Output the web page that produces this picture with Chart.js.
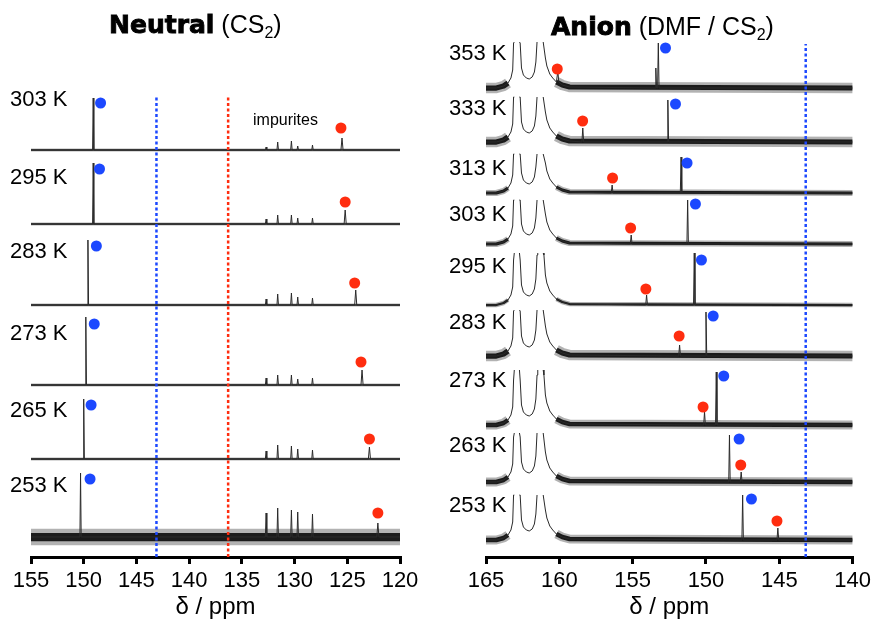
<!DOCTYPE html>
<html><head><meta charset="utf-8">
<script src="https://cdn.jsdelivr.net/npm/chart.js@4.4.1/dist/chart.umd.min.js"></script>
<style>
body{margin:0;width:875px;height:624px;position:relative;background:#fff;font-family:"Liberation Sans",Arial,sans-serif;overflow:hidden}
canvas{position:absolute;top:0}
.lab{position:absolute;font-size:22px;line-height:22px;color:#000;white-space:nowrap}
.ttl{position:absolute;font-size:25px;line-height:25px;color:#000;white-space:nowrap}
.ttl b{font-family:"DejaVu Sans";font-weight:bold;-webkit-text-stroke:0.9px #000}
.ttl sub{font-size:16px;vertical-align:-5px;line-height:0}
.imp{position:absolute;font-size:16px;line-height:16px;white-space:nowrap}
</style></head><body>
<canvas id="c1" width="430" height="624" style="left:0"></canvas>
<canvas id="c2" width="435" height="624" style="left:440px"></canvas>
<div class="ttl" style="left:109px;top:12px"><b>Neutral</b> (CS<sub>2</sub>)</div>
<div class="ttl" style="left:551px;top:14px"><b>Anion</b> (DMF / CS<sub>2</sub>)</div>
<div class="imp" style="left:253px;top:112px">impurites</div>
<script>
// ---------- Neutral (CS2) ----------
const neutralTemps = ['303 K','295 K','283 K','273 K','265 K','253 K'];
const neutralBluePpm = [149.1, 149.1, 149.6, 149.8, 150.0, 150.3];
const neutralBlueInt = [52, 61, 65, 68, 60, 64];
const neutralRedPpm  = [125.5, 125.2, 124.2, 123.6, 122.9, 122.1];
const neutralRedInt  = [12, 14, 15, 15, 12, 14];
const impurityPpm = [132.7, 131.6, 130.3, 129.7, 128.3];
const impurityInt = [
  [3, 8, 9, 4, 5],
  [5, 9, 9, 6, 6],
  [6, 11, 12, 8, 7],
  [7, 10, 10, 6, 7],
  [8, 14, 13, 10, 9],
  [24, 29, 27, 25, 23]
];
const neutralBlueDotPpm = [148.4, 148.5, 148.8, 149.0, 149.3, 149.4];
const neutralBlueDotInt = [47, 55, 59, 61, 54, 58];
const neutralRedDotPpm  = [125.6, 125.2, 124.3, 123.7, 122.9, 122.1];
const neutralRedDotInt  = [22, 22, 22, 23, 20, 24];
const neutralRefBlue = 143.1;
const neutralRefRed = 136.3;
const neutralTicks = [155,150,145,140,135,130,125,120];

// ---------- Anion (DMF / CS2) ----------
const anionTemps = ['353 K','333 K','313 K','303 K','295 K','283 K','273 K','263 K','253 K'];
const anionBluePpm = [153.25, 152.6, 151.7, 151.25, 150.8, 150.0, 149.3, 148.4, 147.5];
const anionBlueInt = [45, 42, 36, 44, 52, 44, 53, 47, 45];
const anionRedPpm  = [160.1, 158.4, 156.4, 155.1, 154.05, 151.8, 150.1, 147.6, 145.1];
const anionRedInt  = [11, 14, 8, 9, 10, 11, 13, 10, 12];
const anionShoulderPpm = [153.42, null, null, null, null, null, null, null, null];
const anionShoulderInt = [20, 0, 0, 0, 0, 0, 0, 0, 0];
const anionBlueDotPpm = [152.76, 152.08, 151.29, 150.72, 150.31, 149.51, 148.79, 147.74, 146.9];
const anionBlueDotInt = [40, 38, 30, 40, 45, 40, 49, 43, 41];
const anionRedDotPpm  = [160.14, 158.41, 156.37, 155.14, 154.1, 151.83, 150.2, 147.63, 145.16];
const anionRedDotInt  = [19, 21, 15, 16, 16, 20, 18, 17, 19];
const anionRefBlue = 143.2;
const anionTicks = [165,160,155,150,145,140];
// DMF solvent doublet (999 = off scale, null = peak centre cut off)
const dmfPpm = [165.0,164.3,163.8,163.5,163.3,163.18,163.12,163.07,162.9,162.72,162.67,162.58,162.45,162.25,162.05,161.85,161.7,161.6,161.52,161.47,161.3,161.1,161.05,160.95,160.85,160.65,160.45,160.2,159.8,159.3];
const dmfInt = [0,0,2,5,10,18,45,999,null,999,45,20,13,10,9,11,16,26,50,999,null,999,50,30,22,14,10,6,3,1];
const anionCap = [46, 45, 39, 44, 52, 46, 55, 49, 45];

// ---------- layout (stack offsets / noise widths) ----------
const neutralOffsets = [407, 333, 252, 172, 98, 20];
const neutralNoise = [2, 2, 2, 2, 2, 11];
const neutralLabelY = [98, 176, 250, 332, 409, 484];
const anionOffsets = [469, 415, 364, 313, 252, 201, 132, 75, 17];
const anionNoise = [7, 7, 4, 4, 3, 7, 6, 6, 6];
const anionLabelY = [52, 107, 167, 213, 265, 321, 379, 444, 504];

const BLUE = 'rgb(28,72,255)';
const RED = 'rgb(255,45,15)';
const FONT = '"Liberation Sans", Arial, sans-serif';

function makeTrace(off, spikes, xmax, xmin, profPpm, profInt, cap) {
  const pts = [];
  const baseAt = (p) => {
    if (!profPpm) return 0;
    if (p > profPpm[0] || p < profPpm[profPpm.length - 1]) return 0;
    let best = 0, bd = 1e9;
    profPpm.forEach((q, i) => { if (profInt[i] !== null && profInt[i] < 100 && Math.abs(q - p) < bd) { bd = Math.abs(q - p); best = profInt[i]; } });
    return best;
  };
  if (profPpm) {
    profPpm.forEach((p, i) => pts.push({x: p, y: profInt[i] === null ? null : off + Math.min(profInt[i], cap)}));
  } else {
    pts.push({x: xmax, y: off});
  }
  spikes.forEach(([p, h, w]) => {
    const b = baseAt(p);
    pts.push({x: p + w, y: off + b});
    pts.push({x: p, y: off + b + h});
    pts.push({x: p - w, y: off + b});
  });
  pts.push({x: xmin, y: off});
  pts.sort((a, b) => b.x - a.x);
  return pts;
}
function makeBand(off, xmax, xmin, profPpm, profInt) {
  const pts = [];
  if (profPpm) profPpm.forEach((p, i) => pts.push({x: p, y: (profInt[i] !== null && profInt[i] <= 6) ? off + profInt[i] : null}));
  else pts.push({x: xmax, y: off});
  pts.push({x: xmin, y: off});
  return pts;
}
function lineDs(data, color, width, dash) {
  return {type: 'line', data, borderColor: color, borderWidth: width, borderDash: dash || [], pointRadius: 0, fill: false, tension: 0, spanGaps: false, borderCapStyle: 'butt', borderJoinStyle: 'round'};
}
function dotDs(data, color) {
  return {type: 'scatter', data, backgroundColor: color, borderColor: color, borderWidth: 0, pointRadius: 5.5, pointHoverRadius: 5.5};
}
function makeOptions(xmin, xmax, ymax, padL, padR, padT, ticks) {
  return {
    responsive: false, animation: false, events: [],
    layout: {padding: {left: padL, right: padR, top: padT, bottom: 0}},
    plugins: {legend: {display: false}, tooltip: {enabled: false}},
    scales: {
      x: {
        type: 'linear', reverse: true, min: xmin, max: xmax,
        afterBuildTicks: (s) => { s.ticks = ticks.map(v => ({value: v})); },
        ticks: {font: {size: 22, family: FONT}, color: '#000', padding: 4, maxRotation: 0, autoSkip: false},
        grid: {drawOnChartArea: false, drawTicks: true, tickLength: 7, lineWidth: 3, color: '#000'},
        border: {display: true, width: 3, color: '#000'},
        title: {display: true, text: 'δ / ppm', font: {size: 24, family: FONT}, color: '#000', padding: {top: 0, bottom: 2}},
        afterFit: (s) => { s.height = 67; }
      },
      y: {display: false, min: 0, max: ymax}
    }
  };
}

// ---------- Neutral chart ----------
(function () {
  const dots = [], refs = [], traces = [], bands = [];
  neutralTemps.forEach((t, i) => {
    const off = neutralOffsets[i];
    dots.push(dotDs([{x: neutralBlueDotPpm[i], y: off + neutralBlueDotInt[i]}], BLUE));
    dots.push(dotDs([{x: neutralRedDotPpm[i], y: off + neutralRedDotInt[i]}], RED));
    const spikes = [[neutralBluePpm[i], neutralBlueInt[i], 0.06], [neutralRedPpm[i], neutralRedInt[i], 0.1]];
    impurityPpm.forEach((p, k) => spikes.push([p, impurityInt[i][k], 0.07]));
    traces.push(lineDs(makeTrace(off, spikes, 155, 120), '#2a2a2a', 1));
    const w = neutralNoise[i];
    bands.push(lineDs(makeBand(off, 155, 120), 'rgba(0,0,0,0.85)', w * 0.75));
    bands.push(lineDs(makeBand(off, 155, 120), 'rgba(0,0,0,0.3)', w * 1.5));
  });
  refs.push(lineDs([{x: neutralRefBlue, y: 0}, {x: neutralRefBlue, y: 460}], BLUE, 2.5, [3, 2.5]));
  refs.push(lineDs([{x: neutralRefRed, y: 0}, {x: neutralRefRed, y: 460}], RED, 2.5, [3, 2.5]));
  new Chart(document.getElementById('c1'), {
    type: 'line',
    data: {datasets: [...dots, ...refs, ...traces, ...bands]},
    options: makeOptions(120, 155, 517, 31, 30, 40, neutralTicks)
  });
  neutralTemps.forEach((t, i) => {
    const d = document.createElement('div');
    d.className = 'lab'; d.textContent = t;
    d.style.left = '10px'; d.style.top = (neutralLabelY[i] - 10) + 'px';
    document.body.appendChild(d);
  });
})();

// ---------- Anion chart ----------
(function () {
  const dots = [], refs = [], traces = [], bands = [];
  anionTemps.forEach((t, i) => {
    const off = anionOffsets[i];
    dots.push(dotDs([{x: anionBlueDotPpm[i], y: off + anionBlueDotInt[i]}], BLUE));
    dots.push(dotDs([{x: anionRedDotPpm[i], y: off + anionRedDotInt[i]}], RED));
    const spikes = [[anionBluePpm[i], anionBlueInt[i], 0.05], [anionRedPpm[i], anionRedInt[i], 0.06]];
    if (anionShoulderPpm[i] !== null) spikes.push([anionShoulderPpm[i], anionShoulderInt[i], 0.05]);
    traces.push(lineDs(makeTrace(off, spikes, 165, 140, dmfPpm, dmfInt, anionCap[i]), '#2a2a2a', 1));
    const w = anionNoise[i];
    bands.push(lineDs(makeBand(off, 165, 140, dmfPpm, dmfInt), 'rgba(0,0,0,0.85)', w * 0.75));
    bands.push(lineDs(makeBand(off, 165, 140, dmfPpm, dmfInt), 'rgba(0,0,0,0.3)', w * 1.5));
  });
  refs.push(lineDs([{x: anionRefBlue, y: 0}, {x: anionRefBlue, y: 513}], BLUE, 2.5, [3, 2.5]));
  new Chart(document.getElementById('c2'), {
    type: 'line',
    data: {datasets: [...dots, ...refs, ...traces, ...bands]},
    options: makeOptions(140, 165, 527, 46, 22, 30, anionTicks)
  });
  anionTemps.forEach((t, i) => {
    const d = document.createElement('div');
    d.className = 'lab'; d.textContent = t;
    d.style.left = '449px'; d.style.top = (anionLabelY[i] - 10) + 'px';
    document.body.appendChild(d);
  });
})();
</script>
</body></html>
